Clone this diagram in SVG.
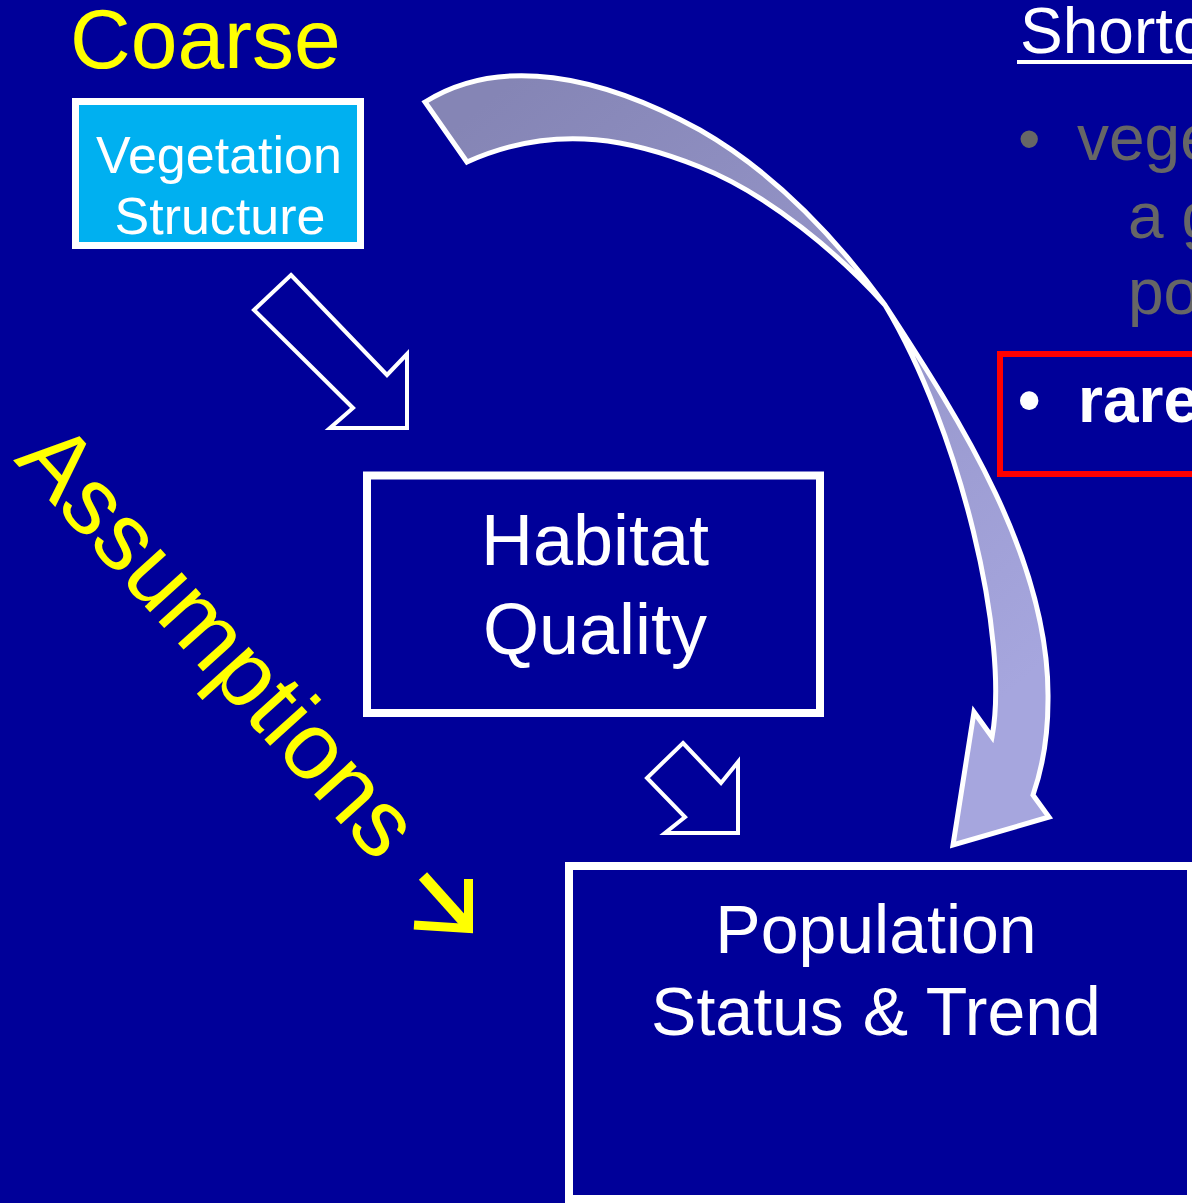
<svg xmlns="http://www.w3.org/2000/svg" width="1192" height="1203" viewBox="0 0 1192 1203">
  <defs>
    <linearGradient id="sweepFill" gradientUnits="userSpaceOnUse" x1="500" y1="90" x2="1000" y2="700">
      <stop offset="0" stop-color="#8585B5"/>
      <stop offset="1" stop-color="#A6A6DE"/>
    </linearGradient>
    <style>
      .bg { fill: #000099; }
      .sans { font-family: "Liberation Sans", Arial, sans-serif; }
      .box { fill: #000099; stroke: #FFFFFF; stroke-width: 8; }
      .boxText { fill: #FFFFFF; text-anchor: middle; }
      .yellow { fill: #FFFF00; }
      .grey { fill: #666666; }
      .block { fill: none; stroke: #FFFFFF; stroke-width: 4; stroke-linejoin: miter; }
    </style>
  </defs>

  <rect class="bg" x="0" y="0" width="1192" height="1203"/>

  <!-- heading above the first box -->
  <g id="coarse-label">
    <text class="sans yellow" x="70" y="68" font-size="84">Coarse</text>
  </g>

  <!-- right-hand notes panel -->
  <g id="notes" class="sans">
    <text x="1020" y="53" font-size="64" fill="#FFFFFF">Shortc</text>
    <rect x="1017" y="60" width="180" height="4" fill="#FFFFFF"/>
    <text class="grey" x="1018" y="161" font-size="64">•</text>
    <text class="grey" x="1077" y="160" font-size="64">vege</text>
    <text class="grey" x="1128" y="238" font-size="64">a g</text>
    <text class="grey" x="1128" y="314" font-size="64">po</text>
    <rect x="1000" y="354" width="200" height="120" fill="none" stroke="#FF0000" stroke-width="6"/>
    <text x="1018" y="422" font-size="64" font-weight="bold" fill="#FFFFFF">•</text>
    <text x="1078" y="422" font-size="64" font-weight="bold" fill="#FFFFFF">rare</text>
  </g>

  <!-- nodes -->
  <g id="vegetation-structure">
    <rect x="75.5" y="101.5" width="285" height="144" fill="#00B0F0" stroke="#FFFFFF" stroke-width="7"/>
    <text class="sans boxText" x="219" y="173" font-size="52">Vegetation</text>
    <text class="sans boxText" x="220" y="234" font-size="52">Structure</text>
  </g>

  <g id="habitat-quality">
    <rect class="box" x="367" y="475.5" width="453" height="237.5"/>
    <text class="sans boxText" x="595" y="565" font-size="72">Habitat</text>
    <text class="sans boxText" x="595" y="654" font-size="72">Quality</text>
  </g>

  <g id="population-status">
    <rect class="box" x="569" y="866" width="622" height="333"/>
    <text class="sans boxText" x="876" y="953" font-size="68">Population</text>
    <text class="sans boxText" x="876" y="1035" font-size="68">Status &amp; Trend</text>
  </g>

  <!-- diagonal label with its arrow -->
  <g id="assumptions-label">
    <text class="sans yellow" font-size="95" transform="translate(13,460) rotate(48)">Assumptions</text>
    <path d="M423,876 L466,924" fill="none" stroke="#FFFF00" stroke-width="11"/>
    <path d="M468.5,879 L468.5,928.5 L414,925" fill="none" stroke="#FFFF00" stroke-width="9" stroke-linejoin="miter"/>
  </g>

  <!-- connectors -->
  <g id="connectors">
    <!-- vegetation -> habitat -->
    <path class="block" d="M291,275 L387,375 L407,354 L407,428 L330,428 L353,408 L254,310 Z"/>
    <!-- habitat -> population -->
    <path class="block" d="M683,743 L721,783 L738,762 L738,833 L665,833 L685,817 L647,778 Z"/>
    <!-- vegetation -> population shortcut -->
    <path fill="url(#sweepFill)" stroke="#FFFFFF" stroke-width="5" stroke-linejoin="miter"
          d="M425,102 C500,55 600,75 700,130 C770,170 830,230 885,305 C960,420 1050,560 1048,700 Q1048,752 1033,795 L1049,817 L953,845 L974,712 L992,737 C1010,640 960,430 885,305 C840,255 770,195 700,167 C640,143 560,120 467,162 Z"/>
  </g>
</svg>
